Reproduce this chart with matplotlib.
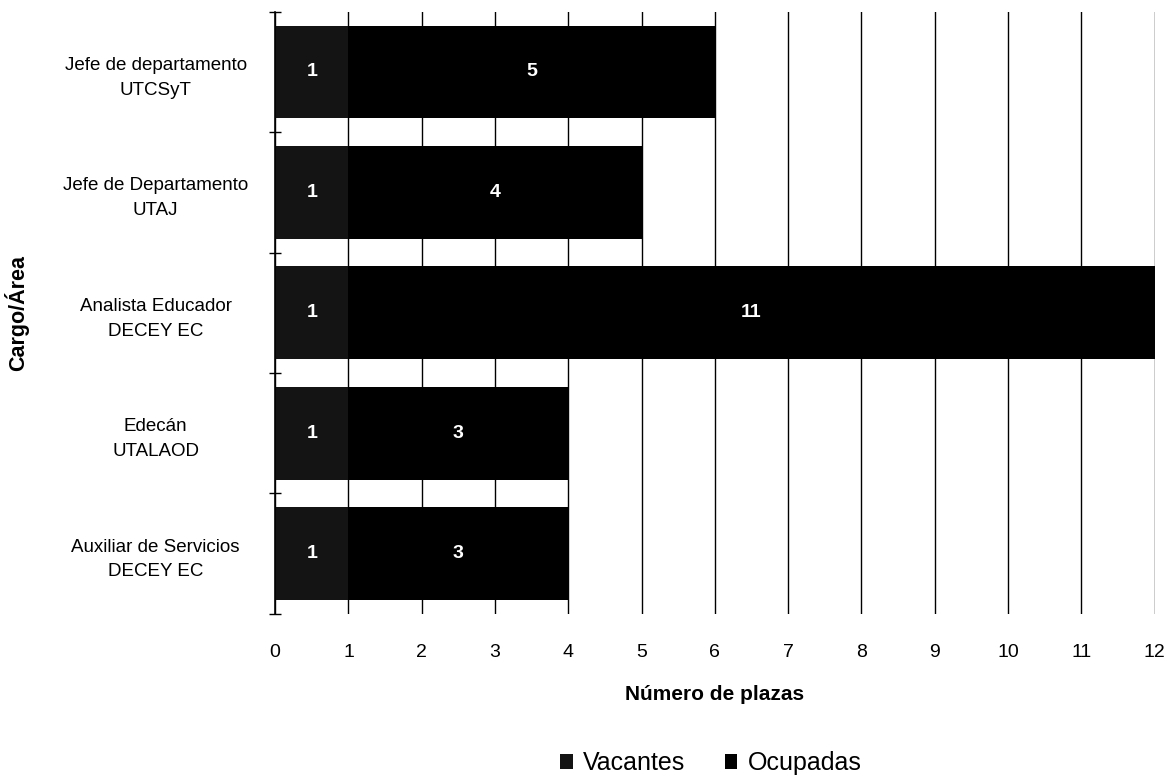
import numpy as np
import matplotlib.pyplot as plt

# data, top to bottom
categories = ['Jefe de departamento\nUTCSyT',
              'Jefe de Departamento\nUTAJ',
              'Analista Educador\nDECEY EC',
              'Edecán\nUTALAOD',
              'Auxiliar de Servicios\nDECEY EC']
vacantes = [1, 1, 1, 1, 1]
ocupadas = [5, 4, 11, 3, 3]

plt.rcParams['font.family'] = ['Liberation Sans', 'DejaVu Sans']

fig = plt.figure(figsize=(11.71, 7.79), dpi=100)
ax = fig.add_axes([0.235, 0.212, 0.751, 0.773])

y = np.arange(len(categories))[::-1]
h = 0.77
b1 = ax.barh(y, vacantes, height=h, color='#141414', label='Vacantes')
b2 = ax.barh(y, ocupadas, left=vacantes, height=h, color='black', label='Ocupadas')

for i in range(len(categories)):
    ax.text(vacantes[i] / 2, y[i], str(vacantes[i]), color='white', fontsize=14,
            fontweight='bold', ha='center', va='center')
    ax.text(vacantes[i] + ocupadas[i] / 2, y[i], str(ocupadas[i]), color='white',
            fontsize=14, fontweight='bold', ha='center', va='center')

ax.set_xlim(0, 12)
ax.set_ylim(-0.5, len(categories) - 0.5)
ax.set_xticks(range(13))
ax.tick_params(axis='x', length=0, labelsize=14, pad=22)
ax.set_yticks(y)
ax.set_yticklabels(categories, fontsize=13.5, ha='center', multialignment='center',
                   linespacing=1.6)
ax.tick_params(axis='y', which='major', length=0, pad=86)
ax.set_yticks(np.arange(-0.5, len(categories), 1), minor=True)
ax.tick_params(axis='y', which='minor', length=8, direction='inout', width=1)

ax.grid(axis='x', color='black', linewidth=1)
ax.set_axisbelow(True)
for s in ['top', 'right', 'bottom']:
    ax.spines[s].set_visible(False)
ax.spines['left'].set_linewidth(1.2)

ax.set_xlabel('Número de plazas', fontsize=15, fontweight='bold')
ax.xaxis.set_label_coords(0.5, -0.118)
ax.set_ylabel('Cargo/Área', fontsize=15.5, fontweight='bold')
ax.yaxis.set_label_coords(-0.28, 0.5)

fig.legend(handles=[b1, b2], loc='center', bbox_to_anchor=(0.607, 0.02),
           ncol=2, frameon=False, fontsize=18, handlelength=0.5, handleheight=0.5,
           handletextpad=0.4, columnspacing=1.6, borderaxespad=0, borderpad=0)

fig.savefig('out.png', dpi=100)
